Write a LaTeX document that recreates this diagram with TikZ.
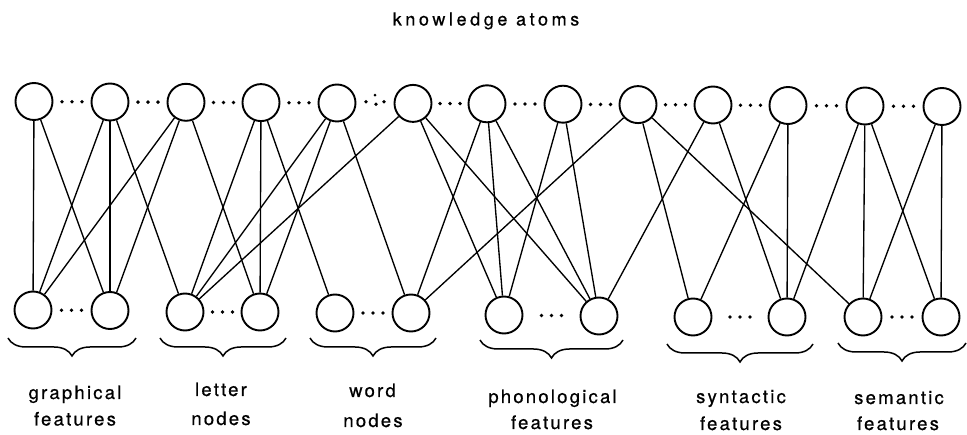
\documentclass[tikz,border=0pt]{standalone}
\usepackage{fontspec}
\setmainfont{TeX Gyre Heros}
\newfontfamily\labfont[LetterSpace=12,FakeBold=0.6]{TeX Gyre Heros}
\newfontfamily\titfont[LetterSpace=20,FakeBold=0.6]{TeX Gyre Heros}
\usetikzlibrary{decorations.pathreplacing,calc}
\begin{document}
\begin{tikzpicture}[x=1pt,y=-1pt,
  atom/.style={circle,draw,line width=1.9pt,minimum size=37pt,inner sep=0pt},
  link/.style={line width=1.35pt},
  lab/.style={anchor=base,inner sep=0pt,font=\labfont\fontsize{18.5}{22}\selectfont},
  ttl/.style={anchor=base,inner sep=0pt,font=\titfont\fontsize{18}{22}\selectfont},
  brc/.style={decorate,decoration={brace,mirror,amplitude=18pt},line width=1.5pt},
  dt/.style={circle,fill,inner sep=0pt,minimum size=3.8pt}]
\useasboundingbox (0,0) rectangle (967,435);
\fill[white] (0,0) rectangle (967,435);

\node[ttl] (title) at (486,25.5) {knowledge atoms};

% top row
\node[atom] (T1)  at (34,101.5) {};
\node[atom] (T2)  at (110,102) {};
\node[atom] (T3)  at (186,102.3) {};
\node[atom] (T4)  at (261,102.6) {};
\node[atom] (T5)  at (337,103) {};
\node[atom] (T6)  at (413,103.4) {};
\node[atom] (T7)  at (487,103.8) {};
\node[atom] (T8)  at (563,104.2) {};
\node[atom] (T9)  at (638,104.6) {};
\node[atom] (T10) at (713,105) {};
\node[atom] (T11) at (788,105.5) {};
\node[atom] (T12) at (865,106) {};
\node[atom] (T13) at (942,106.5) {};

% bottom row
\node[atom] (B1)  at (33,310) {};
\node[atom] (B2)  at (110,310.5) {};
\node[atom] (B3)  at (185,312) {};
\node[atom] (B4)  at (260,312) {};
\node[atom] (B5)  at (335,313) {};
\node[atom] (B6)  at (411,313) {};
\node[atom] (B7)  at (504,315) {};
\node[atom] (B8)  at (599,316) {};
\node[atom] (B9)  at (693,317) {};
\node[atom] (B10) at (787,317) {};
\node[atom] (B11) at (863,317) {};
\node[atom] (B12) at (941,317) {};

% connections
\foreach \t/\b in {T1/B1,T1/B2,
                   T2/B1,T2/B2,T2/B3,
                   T3/B1,T3/B2,T3/B4,
                   T4/B3,T4/B4,T4/B5,
                   T5/B3,T5/B4,T5/B6,
                   T6/B3,T6/B7,T6/B8,
                   T7/B6,T7/B7,T7/B8,
                   T8/B7,T8/B8,
                   T9/B6,T9/B9,T9/B11,
                   T10/B8,T10/B10,
                   T11/B9,T11/B10,
                   T12/B10,T12/B11,T12/B12,
                   T13/B11,T13/B12}
  \draw[link] (\t) -- (\b);

% ellipsis dots
\foreach \a/\b in {T1/T2,T2/T3,T3/T4,T4/T5,T6/T7,T7/T8,T8/T9,T9/T10,T10/T11,T11/T12,T12/T13,
                   B1/B2,B3/B4,B5/B6,B7/B8,B9/B10,B11/B12}
{
  \node[dt] at ($(\a)!0.5!(\b)+(-10,0)$) {};
  \node[dt] at ($(\a)!0.5!(\b)$) {};
  \node[dt] at ($(\a)!0.5!(\b)+(10,0)$) {};
}
\node[dt] at ($(T5)!0.5!(T6)+(-9,-1.5)$) {};
\node[dt] at ($(T5)!0.5!(T6)+(1,1)$) {};
\node[dt,minimum size=3pt] at ($(T5)!0.5!(T6)+(0,-8)$) {};
\node[dt] at ($(T5)!0.5!(T6)+(9,-1.5)$) {};

% braces
\draw[brc] (8,338) -- (136,338);
\draw[brc] (160,338) -- (286,338);
\draw[brc] (310,338) -- (436,338);
\draw[brc] (480,340) -- (623,340);
\draw[brc] (667,344) -- (813,344);
\draw[brc] (838,343) -- (966,343);

% labels
\node[lab] (l1a) at (75,399) {graphical};
\node[lab] (l1b) at (75,425.5) {features};
\node[lab] (l2a) at (221,396) {letter};
\node[lab] (l2b) at (221,425) {nodes};
\node[lab] (l3a) at (372.5,397) {word};
\node[lab] (l3b) at (373,427) {nodes};
\node[lab] (l4a) at (552.5,403) {phonological};
\node[lab] (l4b) at (552,429) {features};
\node[lab] (l5a) at (741,403) {syntactic};
\node[lab] (l5b) at (741,430) {features};
\node[lab] (l6a) at (899,404) {semantic};
\node[lab] (l6b) at (898,430) {features};
\end{tikzpicture}
\end{document}
